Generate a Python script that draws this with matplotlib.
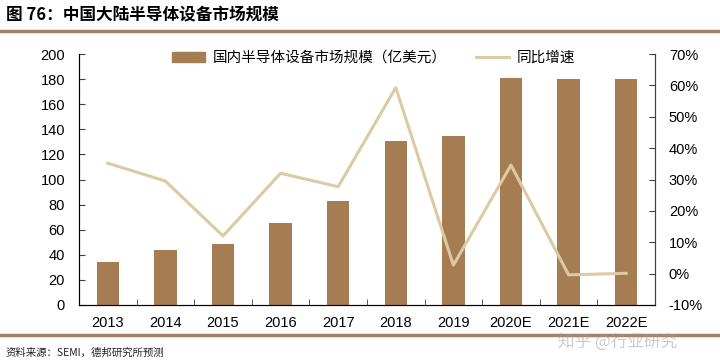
import matplotlib.pyplot as plt
import numpy as np
from matplotlib.lines import Line2D
from matplotlib.ticker import FuncFormatter

plt.rcParams['font.family'] = ['Liberation Sans', 'Noto Sans CJK SC', 'DejaVu Sans']

years = ['2013', '2014', '2015', '2016', '2017', '2018', '2019', '2020E', '2021E', '2022E']
market = [34, 44, 49, 65, 83, 131, 135, 181, 180, 180]
growth = [35.2, 29.5, 12.0, 32.0, 27.7, 59.3, 2.7, 34.6, -0.4, 0.1]

bar_color = '#a67c52'
line_color = '#dccaa3'
rule_color = '#a48468'
cjk = ['Noto Sans CJK SC', 'DejaVu Sans']

fig = plt.figure(figsize=(7.2, 3.63), dpi=100)
ax = fig.add_axes([0.1097, 0.1598, 0.8, 0.6914])
x = np.arange(len(years))
ax.bar(x, market, width=0.39, color=bar_color, zorder=2)
ax.set_xlim(-0.5, len(years) - 0.5)
ax.set_ylim(0, 200)
ax.set_yticks(range(0, 201, 20))
ax.set_xticks(x)
ax.set_xticklabels(years)
ax.set_xticks(np.arange(-0.5, len(years), 1), minor=True)
ax.tick_params(axis='x', which='major', length=0, pad=8, labelsize=10.5)
ax.tick_params(axis='x', which='minor', direction='in', length=4, color='#404040')
ax.tick_params(axis='y', direction='in', length=4, labelsize=10.5, pad=10, color='#404040')
ax.spines['top'].set_visible(False)
for s in ['left', 'bottom', 'right']:
    ax.spines[s].set_color('#404040')

ax2 = ax.twinx()
ax2.plot(x, growth, color=line_color, lw=2.2, zorder=3)
ax2.set_ylim(-10, 70)
ax2.set_yticks(range(-10, 71, 10))
ax2.yaxis.set_major_formatter(FuncFormatter(lambda v, p: f'{v:.0f}%'))
ax2.tick_params(axis='y', direction='in', length=4, labelsize=10.5, pad=10, color='#404040')
ax2.spines['top'].set_visible(False)
ax2.spines['right'].set_color('#404040')

# legend
handles = [plt.Rectangle((0, 0), 1, 1, color=bar_color),
           Line2D([0], [0], color=line_color, lw=2.2)]
leg = ax2.legend(handles, ['国内半导体设备市场规模（亿美元）', '同比增速'], loc='upper left',
                 bbox_to_anchor=(0.161, 1.012), ncol=2, frameon=False, columnspacing=2.0,
                 handlelength=2.3, handletextpad=0.5, borderpad=0, borderaxespad=0,
                 prop={'family': cjk, 'size': 10.5})

fig.text(0.008, 0.957, '图 76：中国大陆半导体设备市场规模', fontsize=12, fontweight='bold',
         family=cjk, va='center')
fig.add_artist(Line2D([0, 1], [0.915, 0.915], color=rule_color, lw=2.5))
fig.add_artist(Line2D([0, 1], [0.078, 0.078], color=rule_color, lw=2.5))
fig.text(0.008, 0.028, '资料来源：SEMI，德邦研究所预测', fontsize=7.5, family=cjk,
         va='center', color='#222222')
fig.text(0.775, 0.058, '知乎 @行业研究', fontsize=12, family=cjk, color='#999999',
         alpha=0.5, va='center')

fig.savefig('out.png', dpi=100)
